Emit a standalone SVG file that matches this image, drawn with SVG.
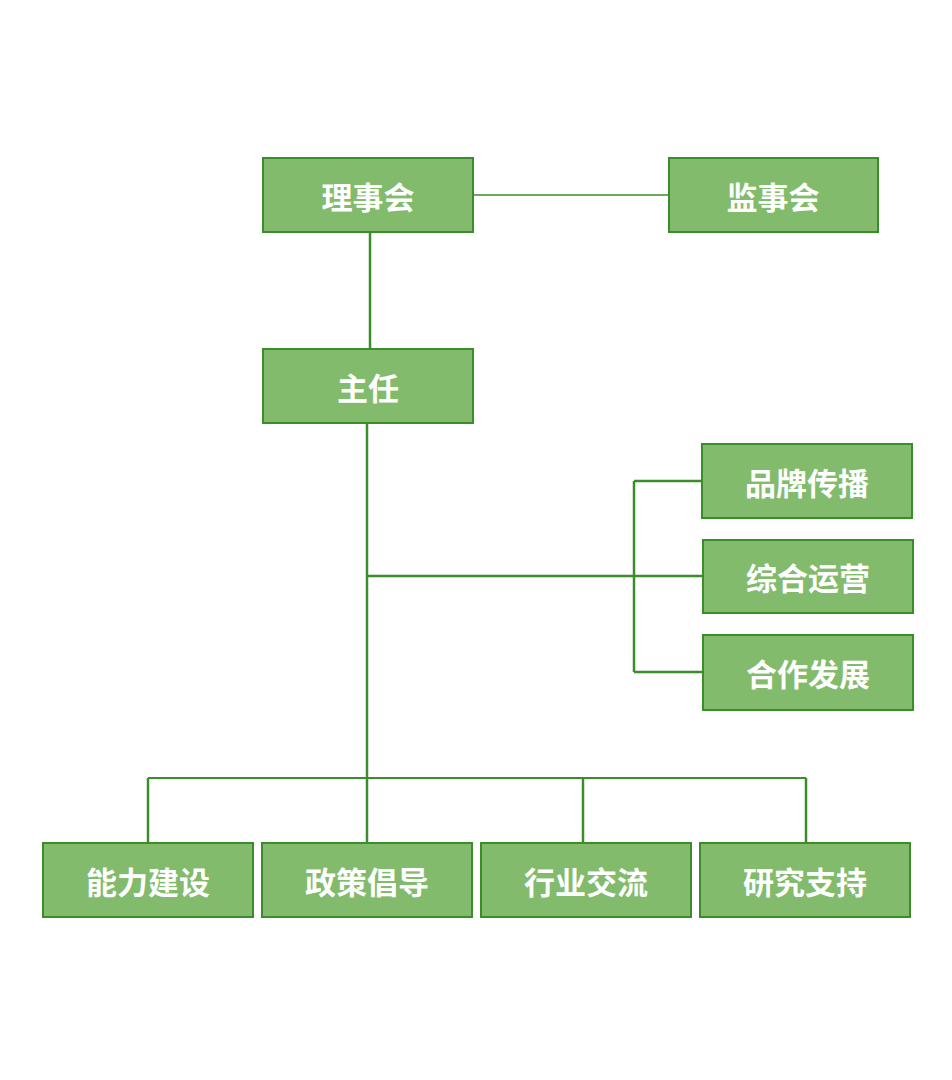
<svg xmlns="http://www.w3.org/2000/svg" width="952" height="1080" viewBox="0 0 952 1080">
<style>
.b rect{fill:#82bb6c;stroke:#3b8c2a;stroke-width:2}
.b text{fill:#fff;font-family:"Noto Sans CJK SC",sans-serif;font-weight:bold;font-size:31px;text-anchor:middle;dominant-baseline:central}
#c line{stroke:#3b8c2a;stroke-width:2.5}
</style>
<rect width="952" height="1080" fill="#fff"/>
<g id="c">
<line x1="473" y1="195" x2="669" y2="195" style="stroke-width:1.5"/>
<line x1="370" y1="232" x2="370" y2="349"/>
<line x1="367" y1="423" x2="367" y2="843"/>
<line x1="367" y1="576" x2="703" y2="576"/>
<line x1="634" y1="481" x2="634" y2="672"/>
<line x1="634" y1="481" x2="702" y2="481"/>
<line x1="634" y1="672" x2="703" y2="672"/>
<line x1="148" y1="778" x2="806" y2="778" style="stroke-width:2"/>
<line x1="148" y1="778" x2="148" y2="843"/>
<line x1="583" y1="778" x2="583" y2="843"/>
<line x1="806" y1="778" x2="806" y2="843"/>
</g>
<g id="n1" class="b"><rect x="263" y="158" width="210" height="74"/><text x="368" y="195">理事会</text></g>
<g id="n2" class="b"><rect x="669" y="158" width="209" height="74"/><text x="773" y="195">监事会</text></g>
<g id="n3" class="b"><rect x="263" y="349" width="210" height="74"/><text x="368" y="386">主任</text></g>
<g id="n4" class="b"><rect x="702" y="444" width="210" height="74"/><text x="807" y="481">品牌传播</text></g>
<g id="n5" class="b"><rect x="703" y="540" width="210" height="73"/><text x="808" y="576">综合运营</text></g>
<g id="n6" class="b"><rect x="703" y="635" width="210" height="75"/><text x="808" y="672">合作发展</text></g>
<g id="n7" class="b"><rect x="43" y="843" width="210" height="74"/><text x="148" y="880">能力建设</text></g>
<g id="n8" class="b"><rect x="262" y="843" width="210" height="74"/><text x="367" y="880">政策倡导</text></g>
<g id="n9" class="b"><rect x="481" y="843" width="210" height="74"/><text x="586" y="880">行业交流</text></g>
<g id="n10" class="b"><rect x="700" y="843" width="210" height="74"/><text x="805" y="880">研究支持</text></g>
</svg>
